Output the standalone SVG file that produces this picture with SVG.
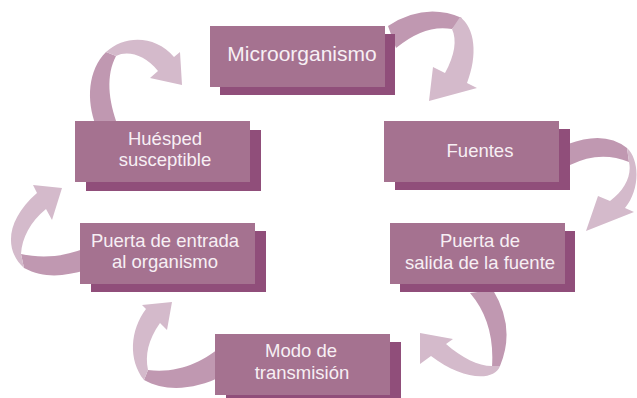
<svg xmlns="http://www.w3.org/2000/svg" width="637" height="398" viewBox="0 0 637 398">
<style>
.front{fill:#a57290}
.shadow{fill:#904e7a}
.lt{fill:#d4bacb}
.dk{fill:#c098b1}
text{font-family:"Liberation Sans",Arial,Helvetica,sans-serif;font-size:18.5px;fill:#f7eff4;text-anchor:middle}
.big{font-size:21px}
</style>
<rect width="637" height="398" fill="#ffffff"/>
<g id="connectors">
  <g id="arrow-micro-fuentes">
    <path class="dk" d="M388,26 Q425,2 462,18 L452,29 Q425,24 396,48 Z"/>
    <path class="lt" d="M460,17 C475,28 478,55 467,83 L477,88 L429,101 L433,67 L445,73 C455,55 457,40 452,29 Z"/>
  </g>
  <g id="arrow-fuentes-salida">
    <path class="dk" d="M568,144 Q605,130 627,148 L629,162 Q600,150 570,165 Z"/>
    <path class="lt" d="M627,148 C640,160 640,190 625,208 L634,212 L586,231 L598,196 L610,201 C625,190 632,175 629,162 Z"/>
  </g>
  <g id="arrow-salida-modo">
    <path class="dk" d="M470,293 Q495,322 492,367 L500,366 Q516,328 493,290 Z"/>
    <path class="lt" d="M500,366 C494,382 462,380 431,356 L420,364 L420,333 L453,339 L446,344 C462,358 478,366 492,366 Z"/>
  </g>
  <g id="arrow-modo-entrada">
    <path class="dk" d="M222,346 C205,360 180,374 148,370 L144,380 C165,392 195,390 222,376 Z"/>
    <path class="lt" d="M144,380 C128,360 130,330 146,309 L142,305 L172,302 L167,330 L160,323 C148,340 145,355 148,370 Z"/>
  </g>
  <g id="arrow-entrada-huesped">
    <path class="dk" d="M86,248 C60,258 40,258 21,254 L24,268 C45,279 65,276 86,270 Z"/>
    <path class="lt" d="M24,268 C4,250 6,220 37,193 L33,185 L62,188 L52,220 L46,209 C30,222 22,238 21,254 Z"/>
  </g>
  <g id="arrow-huesped-micro">
    <path class="dk" d="M96,126 C86,100 88,70 106,52 L116,56 C106,75 108,100 118,126 Z"/>
    <path class="lt" d="M106,52 C125,35 155,35 174,57 L180,52 L182,85 L150,78 L158,71 C145,55 128,50 116,56 Z"/>
  </g>
</g>
<g id="node-microorganismo">
  <rect class="shadow" x="220" y="34" width="175" height="61"/>
  <rect class="front" x="210" y="26" width="175" height="61"/>
  <text class="big" x="302" y="61">Microorganismo</text>
</g>
<g id="node-fuentes">
  <rect class="shadow" x="395" y="129" width="175" height="61"/>
  <rect class="front" x="384" y="121" width="175" height="61"/>
  <text x="480" y="157">Fuentes</text>
</g>
<g id="node-salida">
  <rect class="shadow" x="400" y="231" width="175" height="61"/>
  <rect class="front" x="390" y="223" width="175" height="61"/>
  <text x="480" y="247">Puerta de</text>
  <text x="480" y="269">salida de la fuente</text>
</g>
<g id="node-modo">
  <rect class="shadow" x="226" y="342" width="175" height="61"/>
  <rect class="front" x="215" y="334" width="175" height="61"/>
  <text x="301" y="357">Modo de</text>
  <text x="302" y="379">transmisión</text>
</g>
<g id="node-entrada">
  <rect class="shadow" x="91" y="231" width="175" height="61"/>
  <rect class="front" x="80" y="223" width="175" height="61"/>
  <text x="165" y="247">Puerta de entrada</text>
  <text x="165" y="268">al organismo</text>
</g>
<g id="node-huesped">
  <rect class="shadow" x="86" y="130" width="175" height="61"/>
  <rect class="front" x="75" y="121" width="175" height="61"/>
  <text x="165" y="145">Huésped</text>
  <text x="165" y="166">susceptible</text>
</g>
</svg>
